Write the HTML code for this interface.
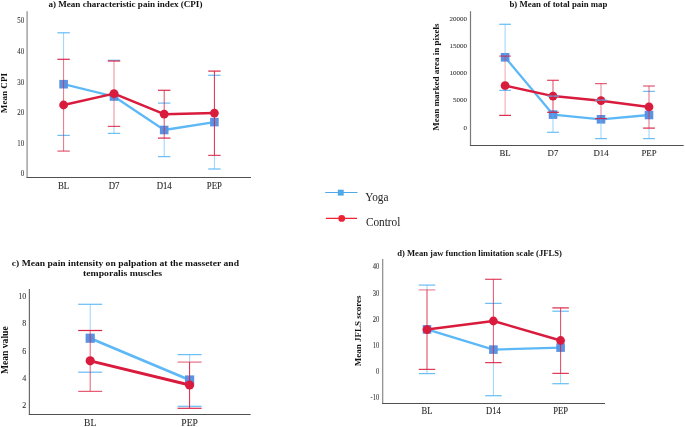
<!DOCTYPE html>
<html><head><meta charset="utf-8"><style>
html,body{margin:0;padding:0;background:#fff;}
body{width:685px;height:427px;overflow:hidden;}
svg{display:block;font-family:"Liberation Serif",serif;}
</style></head><body>
<svg width="685" height="427" viewBox="0 0 685 427">
<defs><filter id="gs" x="0" y="0" width="685" height="427" filterUnits="userSpaceOnUse"><feColorMatrix type="saturate" values="0"/></filter></defs>
<rect width="685" height="427" fill="#fff"/>
<line x1="27.10" y1="11.30" x2="27.10" y2="177.50" stroke="#8a8a8a" stroke-width="1.2"/>
<line x1="26.50" y1="177.50" x2="251.00" y2="177.50" stroke="#505050" stroke-width="1"/>
<polyline points="63.6,84.2 114,96.5 164.2,130 214.4,122.1" fill="none" stroke="#5cb8f6" stroke-width="2.3" stroke-linejoin="round"/>
<rect x="59.30" y="79.90" width="8.6" height="8.6" fill="#5b93e3"/>
<rect x="109.70" y="92.20" width="8.6" height="8.6" fill="#5b93e3"/>
<rect x="159.90" y="125.70" width="8.6" height="8.6" fill="#5b93e3"/>
<rect x="210.10" y="117.80" width="8.6" height="8.6" fill="#5b93e3"/>
<polyline points="63.6,105 114,93.6 164.2,114.2 214.4,113.1" fill="none" stroke="#d91b3d" stroke-width="2.5" stroke-linejoin="round"/>
<circle cx="63.6" cy="105" r="4.4" fill="#d91b3d"/>
<circle cx="114" cy="93.6" r="4.4" fill="#d91b3d"/>
<circle cx="164.2" cy="114.2" r="4.4" fill="#d91b3d"/>
<circle cx="214.4" cy="113.1" r="4.4" fill="#d91b3d"/>
<line x1="63.60" y1="32.80" x2="63.60" y2="59.30" stroke="#5cb8f6" stroke-width="1" opacity="0.62"/>
<line x1="57.40" y1="32.80" x2="69.80" y2="32.80" stroke="#5cb8f6" stroke-width="1.25" opacity="0.9"/>
<line x1="57.40" y1="135.40" x2="69.80" y2="135.40" stroke="#5cb8f6" stroke-width="1.25" opacity="0.9"/>
<line x1="114.00" y1="60.30" x2="114.00" y2="61.00" stroke="#5cb8f6" stroke-width="1" opacity="0.62"/>
<line x1="114.00" y1="126.40" x2="114.00" y2="133.40" stroke="#5cb8f6" stroke-width="1" opacity="0.62"/>
<line x1="107.80" y1="60.30" x2="120.20" y2="60.30" stroke="#5cb8f6" stroke-width="1.25" opacity="0.9"/>
<line x1="107.80" y1="133.40" x2="120.20" y2="133.40" stroke="#5cb8f6" stroke-width="1.25" opacity="0.9"/>
<line x1="164.20" y1="138.10" x2="164.20" y2="156.60" stroke="#5cb8f6" stroke-width="1" opacity="0.62"/>
<line x1="158.00" y1="103.10" x2="170.40" y2="103.10" stroke="#5cb8f6" stroke-width="1.25" opacity="0.9"/>
<line x1="158.00" y1="156.60" x2="170.40" y2="156.60" stroke="#5cb8f6" stroke-width="1.25" opacity="0.9"/>
<line x1="214.40" y1="155.40" x2="214.40" y2="169.00" stroke="#5cb8f6" stroke-width="1" opacity="0.62"/>
<line x1="208.20" y1="75.30" x2="220.60" y2="75.30" stroke="#5cb8f6" stroke-width="1.25" opacity="0.9"/>
<line x1="208.20" y1="169.00" x2="220.60" y2="169.00" stroke="#5cb8f6" stroke-width="1.25" opacity="0.9"/>
<line x1="63.60" y1="59.30" x2="63.60" y2="151.10" stroke="#d91b3d" stroke-width="1" opacity="0.62"/>
<line x1="57.40" y1="59.30" x2="69.80" y2="59.30" stroke="#d91b3d" stroke-width="1.25" opacity="0.9"/>
<line x1="57.40" y1="151.10" x2="69.80" y2="151.10" stroke="#d91b3d" stroke-width="1.25" opacity="0.7"/>
<line x1="114.00" y1="61.00" x2="114.00" y2="126.40" stroke="#d91b3d" stroke-width="1" opacity="0.5"/>
<line x1="107.80" y1="61.00" x2="120.20" y2="61.00" stroke="#d91b3d" stroke-width="1.25" opacity="0.9"/>
<line x1="107.80" y1="126.40" x2="120.20" y2="126.40" stroke="#d91b3d" stroke-width="1.25" opacity="0.8"/>
<line x1="164.20" y1="90.30" x2="164.20" y2="138.10" stroke="#d91b3d" stroke-width="1" opacity="0.78"/>
<line x1="158.00" y1="90.30" x2="170.40" y2="90.30" stroke="#d91b3d" stroke-width="1.25" opacity="0.9"/>
<line x1="158.00" y1="138.10" x2="170.40" y2="138.10" stroke="#d91b3d" stroke-width="1.25" opacity="0.9"/>
<line x1="214.40" y1="71.10" x2="214.40" y2="155.40" stroke="#d91b3d" stroke-width="1" opacity="0.92"/>
<line x1="208.20" y1="71.10" x2="220.60" y2="71.10" stroke="#d91b3d" stroke-width="1.25" opacity="0.9"/>
<line x1="208.20" y1="155.40" x2="220.60" y2="155.40" stroke="#d91b3d" stroke-width="1.25" opacity="0.8"/>
<line x1="470.50" y1="11.20" x2="470.50" y2="145.50" stroke="#7a7a7a" stroke-width="1.2"/>
<line x1="469.90" y1="145.50" x2="683.70" y2="145.50" stroke="#505050" stroke-width="1"/>
<polyline points="505.1,57.3 553,114.6 601,119.3 649,115" fill="none" stroke="#5cb8f6" stroke-width="2.3" stroke-linejoin="round"/>
<rect x="500.80" y="53.00" width="8.6" height="8.6" fill="#5b93e3"/>
<rect x="548.70" y="110.30" width="8.6" height="8.6" fill="#5b93e3"/>
<rect x="596.70" y="115.00" width="8.6" height="8.6" fill="#5b93e3"/>
<rect x="644.70" y="110.70" width="8.6" height="8.6" fill="#5b93e3"/>
<polyline points="505.1,85.7 553,96.1 601,100.7 649,106.9" fill="none" stroke="#d91b3d" stroke-width="2.5" stroke-linejoin="round"/>
<circle cx="505.1" cy="85.7" r="4.4" fill="#d91b3d"/>
<circle cx="553" cy="96.1" r="4.4" fill="#d91b3d"/>
<circle cx="601" cy="100.7" r="4.4" fill="#d91b3d"/>
<circle cx="649" cy="106.9" r="4.4" fill="#d91b3d"/>
<line x1="505.10" y1="24.30" x2="505.10" y2="56.10" stroke="#5cb8f6" stroke-width="1" opacity="0.62"/>
<line x1="499.20" y1="24.30" x2="511.00" y2="24.30" stroke="#5cb8f6" stroke-width="1.25" opacity="0.9"/>
<line x1="499.20" y1="90.40" x2="511.00" y2="90.40" stroke="#5cb8f6" stroke-width="1.25" opacity="0.9"/>
<line x1="553.00" y1="112.30" x2="553.00" y2="132.30" stroke="#5cb8f6" stroke-width="1" opacity="0.62"/>
<line x1="547.10" y1="96.10" x2="558.90" y2="96.10" stroke="#5cb8f6" stroke-width="1.25" opacity="0.9"/>
<line x1="547.10" y1="132.30" x2="558.90" y2="132.30" stroke="#5cb8f6" stroke-width="1.25" opacity="0.9"/>
<line x1="601.00" y1="118.60" x2="601.00" y2="138.60" stroke="#5cb8f6" stroke-width="1" opacity="0.62"/>
<line x1="595.10" y1="100.10" x2="606.90" y2="100.10" stroke="#5cb8f6" stroke-width="1.25" opacity="0.9"/>
<line x1="595.10" y1="138.60" x2="606.90" y2="138.60" stroke="#5cb8f6" stroke-width="1.25" opacity="0.9"/>
<line x1="649.00" y1="128.10" x2="649.00" y2="138.60" stroke="#5cb8f6" stroke-width="1" opacity="0.62"/>
<line x1="643.10" y1="91.40" x2="654.90" y2="91.40" stroke="#5cb8f6" stroke-width="1.25" opacity="0.9"/>
<line x1="643.10" y1="138.60" x2="654.90" y2="138.60" stroke="#5cb8f6" stroke-width="1.25" opacity="0.9"/>
<line x1="505.10" y1="56.10" x2="505.10" y2="115.40" stroke="#d91b3d" stroke-width="1" opacity="0.4"/>
<line x1="499.20" y1="56.10" x2="511.00" y2="56.10" stroke="#d91b3d" stroke-width="1.25" opacity="0.7"/>
<line x1="499.20" y1="115.40" x2="511.00" y2="115.40" stroke="#d91b3d" stroke-width="1.25" opacity="0.9"/>
<line x1="553.00" y1="80.30" x2="553.00" y2="112.30" stroke="#d91b3d" stroke-width="1" opacity="0.8"/>
<line x1="547.10" y1="80.30" x2="558.90" y2="80.30" stroke="#d91b3d" stroke-width="1.25" opacity="0.8"/>
<line x1="547.10" y1="112.30" x2="558.90" y2="112.30" stroke="#d91b3d" stroke-width="1.25" opacity="0.9"/>
<line x1="601.00" y1="83.60" x2="601.00" y2="118.60" stroke="#d91b3d" stroke-width="1" opacity="0.55"/>
<line x1="595.10" y1="83.60" x2="606.90" y2="83.60" stroke="#d91b3d" stroke-width="1.25" opacity="0.7"/>
<line x1="595.10" y1="118.60" x2="606.90" y2="118.60" stroke="#d91b3d" stroke-width="1.25" opacity="0.85"/>
<line x1="649.00" y1="86.00" x2="649.00" y2="128.10" stroke="#d91b3d" stroke-width="1" opacity="0.65"/>
<line x1="643.10" y1="86.00" x2="654.90" y2="86.00" stroke="#d91b3d" stroke-width="1.25" opacity="0.7"/>
<line x1="643.10" y1="128.10" x2="654.90" y2="128.10" stroke="#d91b3d" stroke-width="1.25" opacity="0.9"/>
<line x1="29.40" y1="289.00" x2="29.40" y2="414.50" stroke="#6a6a6a" stroke-width="1.2"/>
<line x1="28.80" y1="414.50" x2="250.60" y2="414.50" stroke="#505050" stroke-width="1"/>
<polyline points="90.2,338.2 189.6,380" fill="none" stroke="#5cb8f6" stroke-width="2.7" stroke-linejoin="round"/>
<rect x="85.60" y="333.60" width="9.2" height="9.2" fill="#5b93e3"/>
<rect x="185.00" y="375.40" width="9.2" height="9.2" fill="#5b93e3"/>
<polyline points="90.2,360.8 189.6,385" fill="none" stroke="#d91b3d" stroke-width="2.9" stroke-linejoin="round"/>
<circle cx="90.2" cy="360.8" r="4.6" fill="#d91b3d"/>
<circle cx="189.6" cy="385" r="4.6" fill="#d91b3d"/>
<line x1="90.20" y1="304.30" x2="90.20" y2="330.50" stroke="#5cb8f6" stroke-width="1" opacity="0.62"/>
<line x1="78.20" y1="304.30" x2="102.20" y2="304.30" stroke="#5cb8f6" stroke-width="1.25" opacity="0.9"/>
<line x1="78.20" y1="372.20" x2="102.20" y2="372.20" stroke="#5cb8f6" stroke-width="1.25" opacity="0.9"/>
<line x1="189.60" y1="354.60" x2="189.60" y2="362.10" stroke="#5cb8f6" stroke-width="1" opacity="0.62"/>
<line x1="177.60" y1="354.60" x2="201.60" y2="354.60" stroke="#5cb8f6" stroke-width="1.25" opacity="0.9"/>
<line x1="177.60" y1="406.30" x2="201.60" y2="406.30" stroke="#5cb8f6" stroke-width="1.25" opacity="0.9"/>
<line x1="90.20" y1="330.50" x2="90.20" y2="391.40" stroke="#d91b3d" stroke-width="1" opacity="0.7"/>
<line x1="78.20" y1="330.50" x2="102.20" y2="330.50" stroke="#d91b3d" stroke-width="1.25" opacity="0.95"/>
<line x1="78.20" y1="391.40" x2="102.20" y2="391.40" stroke="#d91b3d" stroke-width="1.25" opacity="0.7"/>
<line x1="189.60" y1="362.10" x2="189.60" y2="408.30" stroke="#d91b3d" stroke-width="1" opacity="0.95"/>
<line x1="177.60" y1="362.10" x2="201.60" y2="362.10" stroke="#d91b3d" stroke-width="1.25" opacity="0.6"/>
<line x1="177.60" y1="408.30" x2="201.60" y2="408.30" stroke="#d91b3d" stroke-width="1.25" opacity="0.9"/>
<line x1="382.70" y1="259.00" x2="382.70" y2="403.50" stroke="#8a8a8a" stroke-width="1.2"/>
<line x1="382.10" y1="403.50" x2="605.00" y2="403.50" stroke="#505050" stroke-width="1"/>
<polyline points="427,329.4 493.4,349.6 560.6,347.6" fill="none" stroke="#5cb8f6" stroke-width="2.3" stroke-linejoin="round"/>
<rect x="422.70" y="325.10" width="8.6" height="8.6" fill="#5b93e3"/>
<rect x="489.10" y="345.30" width="8.6" height="8.6" fill="#5b93e3"/>
<rect x="556.30" y="343.30" width="8.6" height="8.6" fill="#5b93e3"/>
<polyline points="427,329.6 493.4,321 560.6,340.5" fill="none" stroke="#d91b3d" stroke-width="2.5" stroke-linejoin="round"/>
<circle cx="427" cy="329.6" r="4.4" fill="#d91b3d"/>
<circle cx="493.4" cy="321" r="4.4" fill="#d91b3d"/>
<circle cx="560.6" cy="340.5" r="4.4" fill="#d91b3d"/>
<line x1="427.00" y1="285.10" x2="427.00" y2="289.90" stroke="#5cb8f6" stroke-width="1" opacity="0.62"/>
<line x1="427.00" y1="369.40" x2="427.00" y2="373.60" stroke="#5cb8f6" stroke-width="1" opacity="0.62"/>
<line x1="418.75" y1="285.10" x2="435.25" y2="285.10" stroke="#5cb8f6" stroke-width="1.25" opacity="0.9"/>
<line x1="418.75" y1="373.60" x2="435.25" y2="373.60" stroke="#5cb8f6" stroke-width="1.25" opacity="0.9"/>
<line x1="493.40" y1="362.60" x2="493.40" y2="395.70" stroke="#5cb8f6" stroke-width="1" opacity="0.62"/>
<line x1="485.15" y1="303.40" x2="501.65" y2="303.40" stroke="#5cb8f6" stroke-width="1.25" opacity="0.9"/>
<line x1="485.15" y1="395.70" x2="501.65" y2="395.70" stroke="#5cb8f6" stroke-width="1.25" opacity="0.9"/>
<line x1="560.60" y1="373.40" x2="560.60" y2="383.70" stroke="#5cb8f6" stroke-width="1" opacity="0.62"/>
<line x1="552.35" y1="311.20" x2="568.85" y2="311.20" stroke="#5cb8f6" stroke-width="1.25" opacity="0.9"/>
<line x1="552.35" y1="383.70" x2="568.85" y2="383.70" stroke="#5cb8f6" stroke-width="1.25" opacity="0.9"/>
<line x1="427.00" y1="289.90" x2="427.00" y2="369.40" stroke="#d91b3d" stroke-width="1" opacity="0.85"/>
<line x1="418.75" y1="289.90" x2="435.25" y2="289.90" stroke="#d91b3d" stroke-width="1.25" opacity="0.5"/>
<line x1="418.75" y1="369.40" x2="435.25" y2="369.40" stroke="#d91b3d" stroke-width="1.25" opacity="0.85"/>
<line x1="493.40" y1="279.30" x2="493.40" y2="362.60" stroke="#d91b3d" stroke-width="1" opacity="0.75"/>
<line x1="485.15" y1="279.30" x2="501.65" y2="279.30" stroke="#d91b3d" stroke-width="1.25" opacity="0.8"/>
<line x1="485.15" y1="362.60" x2="501.65" y2="362.60" stroke="#d91b3d" stroke-width="1.25" opacity="0.85"/>
<line x1="560.60" y1="307.90" x2="560.60" y2="373.40" stroke="#d91b3d" stroke-width="1" opacity="0.8"/>
<line x1="552.35" y1="307.90" x2="568.85" y2="307.90" stroke="#d91b3d" stroke-width="1.25" opacity="0.9"/>
<line x1="552.35" y1="373.40" x2="568.85" y2="373.40" stroke="#d91b3d" stroke-width="1.25" opacity="0.85"/>
<line x1="325.20" y1="192.50" x2="357.50" y2="192.50" stroke="#4fa8e8" stroke-width="1.2"/>
<rect x="337.8" y="189.7" width="5.9" height="5.9" fill="#4fa8e8"/>
<line x1="325.90" y1="218.40" x2="357.10" y2="218.40" stroke="#ee2233" stroke-width="1.2"/>
<circle cx="341.7" cy="218.4" r="3.4" fill="#ee2233"/>
<g filter="url(#gs)">
<text transform="translate(24.20 23.35) scale(0.88 1.0)" font-size="7.8" text-anchor="end" fill="#333" stroke="#333" stroke-width="0.08">50</text>
<text transform="translate(24.20 53.65) scale(0.88 1.0)" font-size="7.8" text-anchor="end" fill="#333" stroke="#333" stroke-width="0.08">40</text>
<text transform="translate(24.20 84.75) scale(0.88 1.0)" font-size="7.8" text-anchor="end" fill="#333" stroke="#333" stroke-width="0.08">30</text>
<text transform="translate(24.20 115.35) scale(0.88 1.0)" font-size="7.8" text-anchor="end" fill="#333" stroke="#333" stroke-width="0.08">20</text>
<text transform="translate(24.20 145.75) scale(0.88 1.0)" font-size="7.8" text-anchor="end" fill="#333" stroke="#333" stroke-width="0.08">10</text>
<text transform="translate(24.20 176.45) scale(0.88 1.0)" font-size="7.8" text-anchor="end" fill="#333" stroke="#333" stroke-width="0.08">0</text>
<text transform="translate(63.60 188.80) scale(1.0 1.13)" font-size="8.8" text-anchor="middle" fill="#2a2a2a" stroke="#2a2a2a" stroke-width="0.1">BL</text>
<text transform="translate(114.00 188.80) scale(1.0 1.13)" font-size="8.8" text-anchor="middle" fill="#2a2a2a" stroke="#2a2a2a" stroke-width="0.1">D7</text>
<text transform="translate(164.20 188.80) scale(1.0 1.13)" font-size="8.8" text-anchor="middle" fill="#2a2a2a" stroke="#2a2a2a" stroke-width="0.1">D14</text>
<text transform="translate(214.40 188.80) scale(1.0 1.13)" font-size="8.8" text-anchor="middle" fill="#2a2a2a" stroke="#2a2a2a" stroke-width="0.1">PEP</text>
<text transform="translate(125.40 7.40) scale(1.0 0.93)" font-size="9.1" font-weight="bold" text-anchor="middle" fill="#111">a) Mean characteristic pain index (CPI)</text>
<text transform="translate(6.80 93.10) rotate(-90)" font-size="9.1" font-weight="bold" text-anchor="middle" fill="#111">Mean CPI</text>
<text transform="translate(467.10 20.63)" font-size="7.0" text-anchor="end" fill="#333" stroke="#333" stroke-width="0.08">20000</text>
<text transform="translate(467.10 47.98)" font-size="7.0" text-anchor="end" fill="#333" stroke="#333" stroke-width="0.08">15000</text>
<text transform="translate(467.10 75.38)" font-size="7.0" text-anchor="end" fill="#333" stroke="#333" stroke-width="0.08">10000</text>
<text transform="translate(467.10 102.48)" font-size="7.0" text-anchor="end" fill="#333" stroke="#333" stroke-width="0.08">5000</text>
<text transform="translate(467.10 129.68)" font-size="7.0" text-anchor="end" fill="#333" stroke="#333" stroke-width="0.08">0</text>
<text transform="translate(505.10 156.20) scale(1.0 1.05)" font-size="8.8" text-anchor="middle" fill="#2a2a2a" stroke="#2a2a2a" stroke-width="0.1">BL</text>
<text transform="translate(553.00 156.20) scale(1.0 1.05)" font-size="8.8" text-anchor="middle" fill="#2a2a2a" stroke="#2a2a2a" stroke-width="0.1">D7</text>
<text transform="translate(601.00 156.20) scale(1.0 1.05)" font-size="8.8" text-anchor="middle" fill="#2a2a2a" stroke="#2a2a2a" stroke-width="0.1">D14</text>
<text transform="translate(649.00 156.20) scale(1.0 1.05)" font-size="8.8" text-anchor="middle" fill="#2a2a2a" stroke="#2a2a2a" stroke-width="0.1">PEP</text>
<text transform="translate(558.40 7.00) scale(1.0 0.93)" font-size="8.8" font-weight="bold" text-anchor="middle" fill="#111">b) Mean of total pain map</text>
<text transform="translate(439.20 77.20) rotate(-90)" font-size="9" font-weight="bold" text-anchor="middle" fill="#111">Mean marked area in pixels</text>
<text transform="translate(26.20 299.32)" font-size="8.0" text-anchor="end" fill="#333" stroke="#333" stroke-width="0.08">10</text>
<text transform="translate(26.20 325.92)" font-size="8.0" text-anchor="end" fill="#333" stroke="#333" stroke-width="0.08">8</text>
<text transform="translate(26.20 353.62)" font-size="8.0" text-anchor="end" fill="#333" stroke="#333" stroke-width="0.08">6</text>
<text transform="translate(26.20 380.72)" font-size="8.0" text-anchor="end" fill="#333" stroke="#333" stroke-width="0.08">4</text>
<text transform="translate(26.20 407.52)" font-size="8.0" text-anchor="end" fill="#333" stroke="#333" stroke-width="0.08">2</text>
<text transform="translate(90.20 425.60) scale(1.0 1.04)" font-size="9.6" text-anchor="middle" fill="#2a2a2a" stroke="#2a2a2a" stroke-width="0.1">BL</text>
<text transform="translate(189.60 425.60) scale(1.0 1.04)" font-size="9.6" text-anchor="middle" fill="#2a2a2a" stroke="#2a2a2a" stroke-width="0.1">PEP</text>
<text transform="translate(11.80 266.10) scale(1.0 0.93)" font-size="9.6" font-weight="bold" text-anchor="start" fill="#111">c) Mean pain intensity on palpation at the masseter and</text>
<text transform="translate(83.00 275.85) scale(1.015 0.93)" font-size="9.6" font-weight="bold" text-anchor="start" fill="#111">temporalis muscles</text>
<text transform="translate(7.70 350.20) rotate(-90)" font-size="9.6" font-weight="bold" text-anchor="middle" fill="#111">Mean value</text>
<text transform="translate(379.20 269.42) scale(0.88 1.0)" font-size="7.4" text-anchor="end" fill="#333" stroke="#333" stroke-width="0.08">40</text>
<text transform="translate(379.20 295.82) scale(0.88 1.0)" font-size="7.4" text-anchor="end" fill="#333" stroke="#333" stroke-width="0.08">30</text>
<text transform="translate(379.20 321.92) scale(0.88 1.0)" font-size="7.4" text-anchor="end" fill="#333" stroke="#333" stroke-width="0.08">20</text>
<text transform="translate(379.20 348.42) scale(0.88 1.0)" font-size="7.4" text-anchor="end" fill="#333" stroke="#333" stroke-width="0.08">10</text>
<text transform="translate(379.20 374.32) scale(0.88 1.0)" font-size="7.4" text-anchor="end" fill="#333" stroke="#333" stroke-width="0.08">0</text>
<text transform="translate(379.20 400.22) scale(0.88 1.0)" font-size="7.4" text-anchor="end" fill="#333" stroke="#333" stroke-width="0.08">-10</text>
<text transform="translate(427.00 414.40) scale(1.0 1.13)" font-size="8.6" text-anchor="middle" fill="#2a2a2a" stroke="#2a2a2a" stroke-width="0.1">BL</text>
<text transform="translate(493.40 414.40) scale(1.0 1.13)" font-size="8.6" text-anchor="middle" fill="#2a2a2a" stroke="#2a2a2a" stroke-width="0.1">D14</text>
<text transform="translate(560.60 414.40) scale(1.0 1.13)" font-size="8.6" text-anchor="middle" fill="#2a2a2a" stroke="#2a2a2a" stroke-width="0.1">PEP</text>
<text transform="translate(479.50 256.00) scale(1.0 0.93)" font-size="8.6" font-weight="bold" text-anchor="middle" fill="#111">d) Mean jaw function limitation scale (JFLS)</text>
<text transform="translate(360.60 330.90) rotate(-90)" font-size="9" font-weight="bold" text-anchor="middle" fill="#111">Mean JFLS scores</text>
<text transform="translate(365.20 201.10) scale(1.0 1.09)" font-size="11.3" text-anchor="start" fill="#222">Yoga</text>
<text transform="translate(365.90 225.60) scale(1.0 1.09)" font-size="11.3" text-anchor="start" fill="#222">Control</text>
</g>
</svg>
</body></html>
